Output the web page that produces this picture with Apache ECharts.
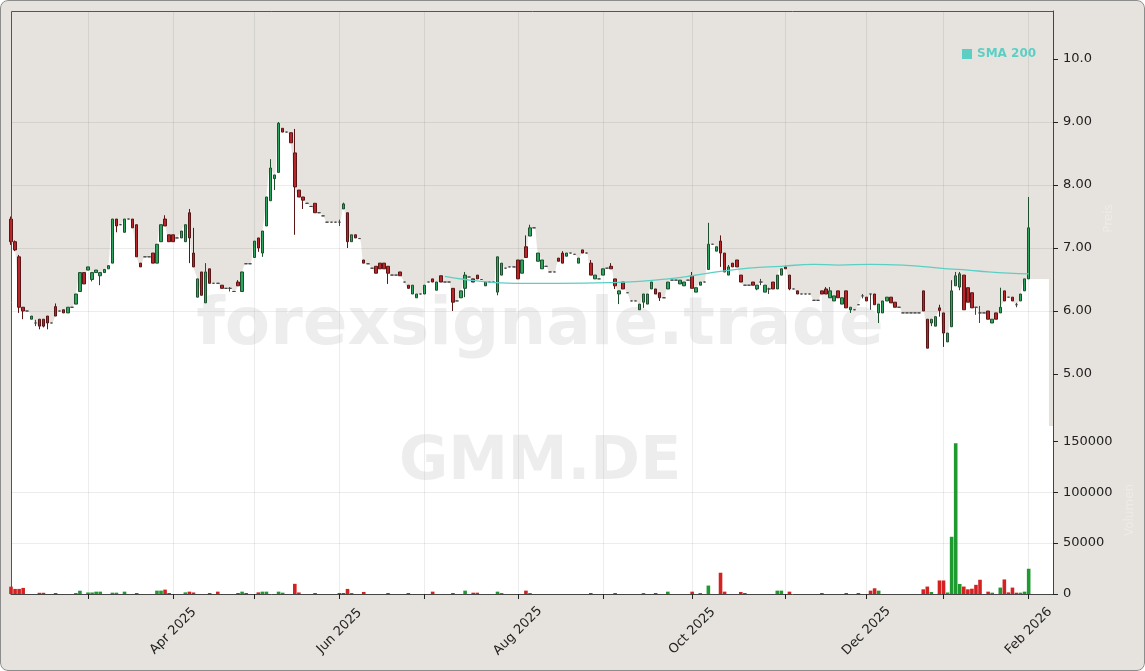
<!DOCTYPE html>
<html><head><meta charset="utf-8">
<script src="https://cdn.jsdelivr.net/npm/echarts@6/dist/echarts.min.js"></script>
<style>
html,body{margin:0;padding:0;background:#ffffff;}
#wrap{position:absolute;left:0;top:0;width:1145px;height:671px;background:#e6e3de;border-radius:8px;overflow:hidden;}
#chart{position:absolute;left:0;top:0;width:1145px;height:671px;}
#frame{position:absolute;left:0;top:0;width:1145px;height:671px;box-sizing:border-box;border:1px solid #8c8c8c;border-radius:8px;pointer-events:none;}
</style></head><body>
<div id="wrap"><div id="chart"></div><div id="frame"></div></div>
<script>
// ---------- data ----------
const firstDay = [2025, 1, 4];          // 2025-02-04 (month 0-based)
const lastDay = '2026-02-02';
const padDays = 6;                      // empty trading days after the last candle
const holidays = ['2025-04-18','2025-04-21','2025-05-01','2025-12-24','2025-12-25','2025-12-26','2025-12-31','2026-01-01'];
const monthNames = ['Jan','Feb','Mar','Apr','May','Jun','Jul','Aug','Sep','Oct','Nov','Dec'];

// [open, close, low, high] per trading day
const ohlc = [
[7.46,7.10,7.05,7.50],[7.10,6.97,6.95,7.12],[6.86,6.06,5.97,6.89],[6.06,6.00,5.87,6.06],[6.00,6.00,6.00,6.00],
[5.87,5.92,5.87,5.92],[5.81,5.81,5.76,5.86],[5.87,5.76,5.71,5.87],[5.87,5.76,5.74,5.87],[5.92,5.81,5.71,5.92],
[5.81,5.81,5.81,5.81],[6.07,5.92,5.92,6.12],[6.00,6.00,6.00,6.00],[6.02,5.97,5.97,6.02],[5.97,6.06,5.97,6.06],
[6.06,6.06,6.06,6.06],[6.11,6.27,6.11,6.27],[6.31,6.61,6.31,6.61],[6.61,6.43,6.43,6.61],[6.65,6.70,6.65,6.70],
[6.50,6.61,6.47,6.61],[6.61,6.65,6.61,6.65],[6.56,6.61,6.41,6.61],[6.61,6.66,6.61,6.66],[6.67,6.72,6.67,6.72],
[6.76,7.46,6.76,7.46],[7.46,7.35,7.25,7.46],[7.37,7.37,7.37,7.37],[7.25,7.46,7.25,7.46],[7.46,7.46,7.46,7.46],
[7.46,7.32,7.32,7.46],[7.37,6.86,6.86,7.37],[6.76,6.70,6.70,6.76],[6.86,6.86,6.86,6.86],[6.86,6.86,6.86,6.86],
[6.92,6.76,6.76,6.92],[6.76,7.06,6.76,7.06],[7.10,7.37,7.10,7.37],[7.46,7.35,7.35,7.52],[7.21,7.10,7.10,7.21],
[7.21,7.10,7.10,7.21],[7.16,7.16,7.16,7.16],[7.16,7.27,7.16,7.27],[7.10,7.37,7.10,7.37],[7.56,7.16,6.76,7.62],
[6.92,6.70,6.70,7.32],[6.22,6.51,6.22,6.51],[6.62,6.25,6.25,6.62],[6.13,6.62,6.13,6.76],[6.67,6.44,6.44,6.67],
[6.44,6.44,6.44,6.44],[6.44,6.44,6.44,6.44],[6.41,6.36,6.36,6.41],[6.36,6.36,6.36,6.36],[6.36,6.36,6.31,6.38],
[6.31,6.31,6.31,6.31],[6.46,6.40,6.40,6.49],[6.31,6.62,6.31,6.62],[6.75,6.75,6.75,6.75],[6.75,6.75,6.75,6.75],
[6.85,7.11,6.85,7.11],[7.16,7.00,6.94,7.16],[6.92,7.27,6.86,7.27],[7.35,7.81,7.35,7.81],[7.75,8.27,7.75,8.41],
[8.10,8.16,7.92,8.16],[8.20,8.98,8.20,9.00],[8.90,8.84,8.84,8.90],[8.84,8.84,8.84,8.84],[8.83,8.67,8.67,8.83],
[8.51,7.97,7.21,8.89],[7.92,7.81,7.81,7.92],[7.81,7.76,7.62,7.81],[7.71,7.71,7.71,7.71],[7.66,7.66,7.66,7.66],
[7.71,7.56,7.56,7.71],[7.56,7.56,7.56,7.56],[7.51,7.51,7.51,7.51],[7.41,7.41,7.41,7.41],[7.41,7.41,7.41,7.41],
[7.41,7.41,7.41,7.41],[7.41,7.41,7.35,7.45],[7.62,7.70,7.62,7.72],[7.56,7.10,7.00,7.56],[7.10,7.21,7.10,7.21],
[7.21,7.16,7.16,7.21],[7.15,7.15,7.15,7.15],[6.81,6.76,6.76,6.81],[6.75,6.75,6.75,6.75],[6.68,6.68,6.68,6.68],
[6.71,6.60,6.60,6.71],[6.76,6.67,6.67,6.76],[6.76,6.67,6.67,6.76],[6.71,6.60,6.43,6.71],[6.57,6.57,6.57,6.57],
[6.57,6.57,6.57,6.57],[6.62,6.56,6.56,6.62],[6.46,6.46,6.46,6.46],[6.41,6.36,6.36,6.41],[6.27,6.41,6.27,6.41],
[6.21,6.27,6.21,6.27],[6.27,6.27,6.27,6.27],[6.27,6.41,6.27,6.41],[6.46,6.46,6.46,6.46],[6.51,6.46,6.46,6.51],
[6.33,6.46,6.33,6.46],[6.56,6.46,6.46,6.56],[6.46,6.46,6.46,6.46],[6.46,6.46,6.46,6.46],[6.36,6.14,6.00,6.36],
[6.16,6.16,6.16,6.16],[6.21,6.32,6.21,6.32],[6.36,6.57,6.22,6.62],[6.54,6.54,6.54,6.54],[6.51,6.46,6.46,6.51],
[6.57,6.51,6.51,6.57],[6.50,6.50,6.50,6.50],[6.40,6.46,6.40,6.46],[6.46,6.46,6.46,6.46],[6.46,6.46,6.46,6.46],
[6.30,6.86,6.25,6.86],[6.57,6.76,6.57,6.76],[6.68,6.68,6.68,6.68],[6.70,6.70,6.70,6.70],[6.70,6.70,6.70,6.70],
[6.81,6.51,6.51,6.81],[6.60,6.81,6.60,6.81],[7.02,6.85,6.85,7.20],[7.19,7.32,7.19,7.37],[7.32,7.32,7.32,7.32],
[6.79,6.92,6.79,6.92],[6.67,6.81,6.67,6.81],[6.71,6.71,6.71,6.71],[6.62,6.62,6.62,6.62],[6.62,6.62,6.62,6.62],
[6.84,6.79,6.79,6.84],[6.92,6.76,6.76,6.95],[6.87,6.92,6.87,6.92],[6.92,6.92,6.92,6.92],[6.90,6.90,6.90,6.90],
[6.76,6.84,6.76,6.84],[6.97,6.92,6.92,6.97],[6.92,6.92,6.92,6.92],[6.76,6.57,6.57,6.81],[6.51,6.57,6.51,6.57],
[6.51,6.51,6.51,6.51],[6.57,6.67,6.57,6.67],[6.68,6.68,6.68,6.68],[6.71,6.67,6.67,6.76],[6.51,6.40,6.35,6.51],
[6.27,6.32,6.11,6.32],[6.46,6.35,6.35,6.46],[6.29,6.29,6.29,6.29],[6.16,6.16,6.16,6.16],[6.16,6.16,6.16,6.16],
[6.02,6.11,6.02,6.11],[6.14,6.27,6.05,6.27],[6.11,6.27,6.11,6.27],[6.35,6.46,6.35,6.46],[6.35,6.27,6.27,6.35],
[6.29,6.21,6.16,6.29],[6.21,6.21,6.21,6.21],[6.35,6.46,6.35,6.46],[6.49,6.49,6.49,6.49],[6.49,6.49,6.49,6.49],
[6.43,6.49,6.43,6.49],[6.40,6.46,6.40,6.46],[6.49,6.49,6.49,6.49],[6.56,6.36,6.36,6.62],[6.30,6.37,6.30,6.37],
[6.41,6.46,6.41,6.46],[6.46,6.46,6.46,6.46],[6.66,7.06,6.66,7.40],[7.06,7.06,7.06,7.06],[6.95,7.02,6.95,7.02],
[7.11,6.92,6.70,7.20],[6.92,6.62,6.62,6.92],[6.57,6.70,6.57,6.73],[6.76,6.70,6.70,6.76],[6.81,6.70,6.70,6.81],
[6.57,6.46,6.46,6.57],[6.41,6.41,6.41,6.41],[6.41,6.41,6.41,6.41],[6.46,6.41,6.41,6.46],[6.35,6.41,6.33,6.41],
[6.46,6.46,6.41,6.51],[6.30,6.41,6.30,6.41],[6.35,6.35,6.27,6.37],[6.46,6.35,6.35,6.46],[6.35,6.57,6.35,6.57],
[6.57,6.67,6.57,6.67],[6.70,6.67,6.67,6.72],[6.57,6.35,6.33,6.57],[6.35,6.35,6.35,6.35],[6.32,6.27,6.27,6.32],
[6.27,6.27,6.27,6.27],[6.27,6.27,6.27,6.27],[6.27,6.27,6.27,6.27],[6.17,6.17,6.17,6.17],[6.17,6.17,6.17,6.17],
[6.32,6.27,6.27,6.32],[6.35,6.27,6.27,6.38],[6.21,6.32,6.21,6.38],[6.16,6.24,6.16,6.24],[6.32,6.21,6.21,6.32],
[6.11,6.21,6.11,6.21],[6.32,6.05,6.05,6.32],[6.02,6.06,5.97,6.06],[6.02,6.02,6.02,6.02],[6.10,6.10,6.10,6.10],
[6.24,6.24,6.20,6.27],[6.22,6.16,6.16,6.22],[6.27,6.27,6.02,6.27],[6.27,6.10,6.10,6.27],[5.97,6.11,5.81,6.11],
[5.97,6.16,5.97,6.16],[6.16,6.22,6.16,6.22],[6.22,6.13,6.13,6.22],[6.14,6.06,6.06,6.14],[6.06,6.06,6.06,6.06],
[5.97,5.97,5.97,5.97],[5.97,5.97,5.97,5.97],[5.97,5.97,5.97,5.97],[5.97,5.97,5.97,5.97],[5.97,5.97,5.97,5.97],
[6.32,6.00,6.00,6.32],[5.87,5.41,5.41,5.87],[5.81,5.87,5.76,5.87],[5.76,5.91,5.76,5.91],[6.05,6.01,5.91,6.10],
[5.97,5.65,5.43,5.97],[5.51,5.65,5.51,5.65],[5.75,6.32,5.75,6.49],[6.40,6.56,6.40,6.62],[6.38,6.59,6.33,6.62],
[6.57,6.02,6.02,6.57],[6.37,6.14,6.14,6.37],[6.29,6.05,6.05,6.29],[6.06,6.06,5.94,6.06],[5.97,5.97,5.81,6.08],
[5.97,5.97,5.97,5.97],[6.00,5.87,5.87,6.00],[5.81,5.87,5.81,5.87],[5.97,5.87,5.87,5.97],[5.97,6.06,5.97,6.37],
[6.32,6.16,6.16,6.32],[6.22,6.22,6.22,6.22],[6.22,6.16,6.16,6.22],[6.10,6.10,6.06,6.13],[6.16,6.27,6.16,6.27],
[6.32,6.51,6.32,6.51],[6.51,7.32,6.51,7.81]
];

// [day index, volume, direction (1 up / -1 down)]
const volumes = [
[0,7200,-1],[1,5000,-1],[2,5000,-1],[3,6000,-1],[7,1200,-1],[8,1200,-1],[11,1000,-1],
[16,1000,1],[17,3200,1],[19,1500,1],[20,1500,1],[21,2300,1],[22,2300,1],[25,1300,1],[26,1300,1],[28,2300,1],
[31,1000,-1],[36,3300,1],[37,3300,1],[38,4300,-1],[39,1000,-1],[43,1600,1],[44,2300,-1],[45,1500,-1],[49,1000,-1],
[51,2300,-1],[56,1000,-1],[57,2300,1],[58,1000,-1],[61,1600,-1],[62,2300,1],[63,2300,1],[66,2300,1],[67,1300,1],
[70,10000,-1],[71,1500,-1],[75,1000,-1],[81,1000,-1],[82,1000,-1],[83,5000,-1],[84,1000,1],[87,2000,-1],[93,1000,-1],
[98,1000,-1],[104,2300,-1],[109,1000,-1],[112,3300,1],[114,1300,-1],[115,1300,-1],[120,2300,1],[121,1000,1],
[127,3300,-1],[128,1000,1],[143,1000,-1],[149,1000,-1],[156,1000,1],[159,1000,-1],[162,2300,1],[168,2300,-1],
[170,1000,1],[172,8300,1],[175,20900,-1],[176,2300,-1],[180,2000,-1],[181,1000,-1],[189,3300,1],[190,3300,1],
[192,2300,-1],[200,1000,-1],[206,1000,-1],[209,1000,-1],[212,3300,-1],[213,5600,-1],[214,3300,1],
[225,4600,-1],[226,7300,-1],[227,2000,1],[229,13300,-1],[230,13300,-1],[231,1500,1],[232,56200,1],[233,148000,1],
[234,9800,1],[235,7300,-1],[236,4600,-1],[237,5200,-1],[238,9000,-1],[239,14000,-1],[241,2300,-1],[242,1300,1],
[244,6300,1],[245,14300,-1],[246,1600,-1],[247,6300,-1],[248,1300,-1],[249,1300,1],[250,2300,1],[251,24800,1]
];

// white price-area level after the last full day
const areaTail = [6.51,6.51,6.51,6.51,6.51,6.51];

// SMA 200 points [day index, value]
const sma200 = [
[107,6.55],[112,6.50],[118,6.46],[125,6.44],[135,6.44],[148,6.45],[155,6.47],[162,6.51],[168,6.56],
[175,6.63],[182,6.68],[190,6.71],[198,6.74],[204,6.73],[212,6.74],[220,6.73],[226,6.70],[231,6.67],
[236,6.65],[241,6.62],[246,6.60],[251,6.59]
];

const priceTicks = [5,6,7,8,9,10];
const volumeTicks = [0,50000,100000,150000];

// ---------- build trading-day categories ----------
function iso(d){ return d.toISOString().slice(0,10); }
const dates = [];
{
  let d = new Date(Date.UTC(firstDay[0], firstDay[1], firstDay[2]));
  let extra = -1;
  while (extra < padDays) {
    const wd = d.getUTCDay();
    const s = iso(d);
    if (wd !== 0 && wd !== 6 && holidays.indexOf(s) < 0) {
      dates.push(s);
      if (s === lastDay) extra = 0; else if (extra >= 0) extra++;
    }
    d = new Date(d.getTime() + 86400000);
  }
}
const N = dates.length;
const isMonthStart = dates.map((s, i) => i > 0 && s.slice(5,7) !== dates[i-1].slice(5,7));
const isLabelMonth = dates.map((s, i) => isMonthStart[i] && (parseInt(s.slice(5,7),10) % 2 === 0));

const areaData = ohlc.slice(0, ohlc.length - 1).map(r => r[1]).concat(areaTail);
while (areaData.length < N) areaData.push(null);

const UP = '#2ea55c', UPB = '#1e4f2e', DN = '#b8262a', DNB = '#5a1616';
const VUP = '#1f9a30', VDN = '#d42222';
const SMA_C = '#5ccfc4';
const GRIDC = 'rgba(0,0,0,0.075)';

const volData = new Array(N).fill(null);
volumes.forEach(([i, v, dir]) => { volData[i] = { value: v, itemStyle: { color: dir > 0 ? VUP : VDN } }; });

const chart = echarts.init(document.getElementById('chart'), null, { renderer: 'canvas' });
const FONT = 'DejaVu Sans';
chart.setOption({
  animation: false,
  backgroundColor: 'transparent',
  textStyle: { fontFamily: FONT },
  grid: [
    { left: 11, right: 92, top: 11, height: 415, show: false },
    { left: 11, right: 92, top: 426, height: 168, show: true, backgroundColor: '#ffffff', borderWidth: 0 }
  ],
  legend: {
    data: ['SMA 200'], left: 962, top: 48, padding: 0, icon: 'rect', itemWidth: 10, itemHeight: 10, itemGap: 5,
    selectedMode: false,
    textStyle: { color: SMA_C, fontWeight: 'bold', fontSize: 12, fontFamily: FONT }
  },
  xAxis: [
    { type: 'category', gridIndex: 0, data: dates, boundaryGap: false, z: 1.5,
      axisLine: { show: false }, axisTick: { show: false }, axisLabel: { show: false },
      splitLine: { show: true, interval: (i) => isMonthStart[i], lineStyle: { color: GRIDC, width: 1 } } },
    { type: 'category', gridIndex: 1, data: dates, boundaryGap: false, z: 1.5,
      axisLine: { show: true, lineStyle: { color: '#444', width: 1 } },
      axisTick: { show: true, interval: (i) => isMonthStart[i], length: 5, lineStyle: { color: '#222' } },
      axisLabel: { show: true, interval: (i) => isLabelMonth[i], rotate: 45, align: 'center', verticalAlign: 'middle',
        margin: 37, fontSize: 13, color: '#222', fontFamily: FONT,
        formatter: (v) => monthNames[parseInt(v.slice(5,7),10) - 1] + ' ' + v.slice(0,4) },
      splitLine: { show: true, interval: (i) => isMonthStart[i], lineStyle: { color: GRIDC, width: 1 } } }
  ],
  yAxis: [
    { type: 'value', gridIndex: 0, position: 'right', min: 4.175, max: 10.762, z: 1.5,
      axisLine: { show: true, lineStyle: { color: '#444' } },
      axisTick: { show: true, length: 5, customValues: priceTicks, lineStyle: { color: '#222' } },
      axisLabel: { customValues: priceTicks, margin: 10, fontSize: 13, color: '#222', fontFamily: FONT,
        formatter: (v) => v >= 10 ? v.toFixed(1) : v.toFixed(2) },
      splitLine: { show: true, showMinLine: false, showMaxLine: false, lineStyle: { color: GRIDC } },
      name: 'Preis', nameLocation: 'middle', nameGap: 50, nameRotate: 90,
      nameTextStyle: { color: 'rgba(255,255,255,0.3)', fontSize: 12, fontFamily: FONT } },
    { type: 'value', gridIndex: 1, position: 'right', min: 0, max: 165000, interval: 50000, z: 1.5,
      axisLine: { show: true, lineStyle: { color: '#444' } },
      axisTick: { show: true, length: 5, customValues: volumeTicks, lineStyle: { color: '#222' } },
      axisLabel: { customValues: volumeTicks, margin: 10, fontSize: 13, color: '#222', fontFamily: FONT,
        formatter: (v) => String(v) },
      splitLine: { show: true, showMinLine: false, showMaxLine: false, lineStyle: { color: GRIDC } },
      name: 'Volumen', nameLocation: 'middle', nameGap: 58, nameRotate: 90,
      nameTextStyle: { color: 'rgba(255,255,255,0.3)', fontSize: 12, fontFamily: FONT } }
  ],
  graphic: [
    { type: 'text', x: 540, y: 327, z: 1.6, silent: true,
      style: { text: 'forexsignale.trade', font: 'bold 66px "DejaVu Sans"', fill: 'rgba(190,190,190,0.28)', align: 'center', verticalAlign: 'middle' } },
    { type: 'text', x: 540, y: 463, z: 1.6, silent: true,
      style: { text: 'GMM.DE', font: 'bold 60px "DejaVu Sans"', fill: 'rgba(190,190,190,0.28)', align: 'center', verticalAlign: 'middle' } },
    { type: 'polyline', z: 10, silent: true,
      shape: { points: [[11.5, 594], [11.5, 11.5], [1053, 11.5]] },
      style: { stroke: '#555', lineWidth: 1, fill: null } }
  ],
  series: [
    { type: 'line', name: 'area', xAxisIndex: 0, yAxisIndex: 0, data: areaData, smooth: 0.35, symbol: 'none',
      lineStyle: { opacity: 0 }, areaStyle: { color: '#ffffff', opacity: 1 }, z: 1, silent: true, legendHoverLink: false },
    { type: 'candlestick', name: 'price', xAxisIndex: 0, yAxisIndex: 0, data: ohlc, barWidth: 3, z: 2,
      itemStyle: { color: UP, color0: DN, borderColor: UPB, borderColor0: DNB, borderColorDoji: '#444', borderWidth: 1 } },
    { type: 'line', name: 'SMA 200', xAxisIndex: 0, yAxisIndex: 0, data: sma200, smooth: true, symbol: 'none',
      lineStyle: { color: SMA_C, width: 1.3 }, itemStyle: { color: SMA_C }, z: 3 },
    { type: 'bar', name: 'volume', xAxisIndex: 1, yAxisIndex: 1, data: volData, barWidth: 3.6, z: 2 }
  ]
});
</script>
</body></html>
